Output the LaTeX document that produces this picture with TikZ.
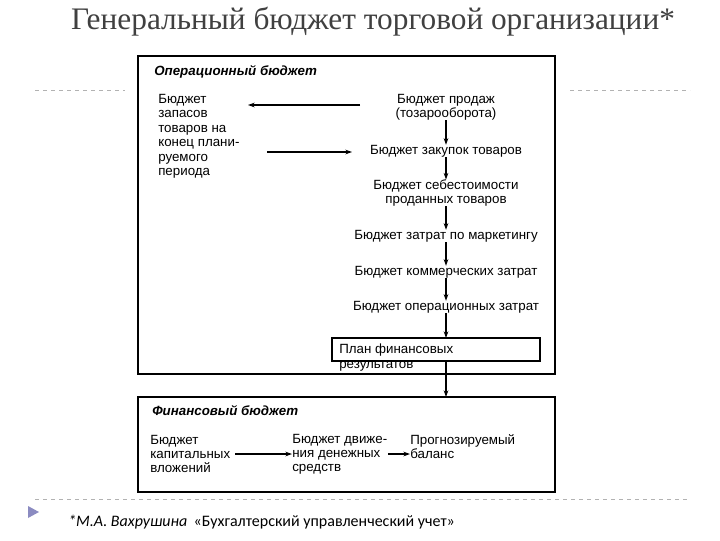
\documentclass[tikz,border=0pt]{standalone}
\usepackage{fontspec}
\setmainfont{Liberation Sans}
\newfontfamily\serifttl{Liberation Serif}
\newfontfamily\carl{Carlito}
\usetikzlibrary{arrows.meta}
\begin{document}
\begin{tikzpicture}[x=0.75pt,y=-0.75pt,
  txt/.style={font=\fontsize{10}{10.6}\selectfont,inner sep=0pt,align=left},
  ltxt/.style={font=\fontsize{10}{10.8}\selectfont,inner sep=0pt,align=left},
  ctxt/.style={font=\fontsize{10}{10.4}\selectfont,inner sep=0pt,align=center},
  hdr/.style={font=\fontsize{10}{10}\selectfont\bfseries\itshape,inner sep=0pt,anchor=west},
  arr/.style={-{Stealth[length=5pt,width=3.5pt]},thick},
  frame/.style={draw,line width=1pt},
  dsh/.style={draw=gray!60,dashed}]
\useasboundingbox (0,0) rectangle (720,540);
\node[font=\serifttl\fontsize{23.5}{26}\selectfont,text=black!75] (title) at (373,22) {Генеральный бюджет торговой организации*};
\draw[dsh] (35,90) -- (125,90) (570,90) -- (690,90) (35,499) -- (690,499);
\fill[fill=blue!30!gray!70] (28,506) -- (39,512) -- (28,518) -- cycle;
\node[anchor=west,font=\carl\fontsize{12}{14}\selectfont,inner sep=0pt] (foot) at (68,522) {\textit{*М.А. Вахрушина} \,«Бухгалтерский управленческий учет»};
\draw[frame] (138,56) rectangle (555,374);
\draw[frame] (138,397) rectangle (555,492);
\node[hdr] (h1) at (154,72) {Операционный бюджет};
\node[ltxt,anchor=north west] (zap) at (158,94) {Бюджет\\запасов\\товаров на\\конец плани-\\руемого\\периода};
\node[ctxt] (sales) at (446,107) {Бюджет продаж\\(тозарооборота)};
\node[ctxt] (purch) at (446,151) {Бюджет закупок товаров};
\node[ctxt] (cost) at (446,193) {Бюджет себестоимости\\проданных товаров};
\node[ctxt] (mkt) at (446,236) {Бюджет затрат по маркетингу};
\node[ctxt] (com) at (446,272) {Бюджет коммерческих затрат};
\node[ctxt] (op) at (446,307) {Бюджет операционных затрат};
\draw[line width=1pt] (332,338) rectangle (540,361);
\node[txt,anchor=north west] (plan) at (339,344) {План финансовых\\результатов};
\coordinate (ptop) at (446,338);
\coordinate (pbot) at (446,361);
\coordinate (ftop) at (446,397);
\coordinate (a1s) at (360,105); \coordinate (a1e) at (248,105);
\coordinate (a2s) at (267,152); \coordinate (a2e) at (352,152);
\draw[arr] (a1s) -- (a1e);
\draw[arr] (a2s) -- (a2e);
\draw[arr] (sales) -- (purch);
\draw[arr] (purch) -- (cost);
\draw[arr] (cost) -- (mkt);
\draw[arr] (mkt) -- (com);
\draw[arr] (com) -- (op);
\draw[arr] (op) -- (ptop);
\draw[arr] (pbot) -- (ftop);
\node[hdr] (h2) at (152,411) {Финансовый бюджет};
\node[txt,anchor=west] (cap) at (150,454) {Бюджет\\капитальных\\вложений};
\node[txt,anchor=west] (cash) at (292,454) {Бюджет движе-\\ния денежных\\средств};
\node[txt,anchor=west] (bal) at (410,447) {Прогнозируемый\\баланс};
\coordinate (c1) at (235,454); \coordinate (c2) at (388,454);
\draw[arr] (c1) -- (cash.west|-c1);
\draw[arr] (c2) -- (bal.west|-c2);
\end{tikzpicture}
\end{document}
